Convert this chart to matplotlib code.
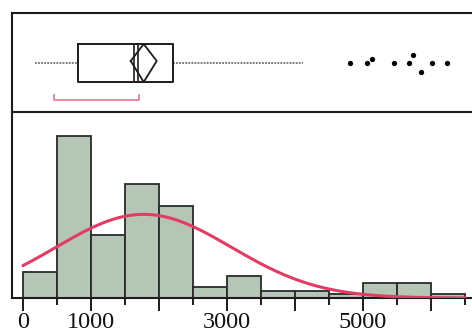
import numpy as np
import matplotlib
matplotlib.use("Agg")
from matplotlib import pyplot as plt

# histogram, 500 wide bins
bin_edges = [0, 500, 1000, 1500, 2000, 2500, 3000, 3500, 4000, 4500, 5000, 5500, 6000, 6500]
counts = [7, 44, 17, 31, 25, 3, 6, 2, 2, 1, 4, 4, 1]

# outlier box plot summary
whisker_lo = 176
q1 = 804
median_lines = [1632, 1695]
q3 = 2210
whisker_hi = 4122
mean = 1775
mean_ci = (1584, 1966)
shortest_half = (460, 1710)
outliers = [4809, 5054, 5128, 5456, 5681, 5731, 5849, 6010, 6240]
outlier_jitter = [0, 0, -4.3, 0, 0, -8.3, 9.4, 0, 0]

# fitted normal
fit_sd = 1290

tick_major = [0, 1000, 2000, 3000, 4000, 5000, 6000]
tick_labels = ["0", "1000", "", "3000", "", "5000", ""]
tick_minor = [500, 1500, 2500, 3500, 4500, 5500, 6500]

W, H = 472, 332
fig = plt.figure(figsize=(W / 100, H / 100), dpi=100)
fig.patch.set_facecolor("white")

x0 = 12 / W
aw = 469 / W
xlim = (-162, 6735)
frame = "#1c1c1c"

# top: box plot
ax1 = fig.add_axes([x0, (H - 112) / H, aw, 99 / H])
ax1.set_xlim(xlim)
ax1.set_ylim(112, 13)
ax1.set_xticks([])
ax1.set_yticks([])
for s in ["left", "top", "bottom"]:
    ax1.spines[s].set_linewidth(1.5)
    ax1.spines[s].set_color(frame)
ax1.spines["right"].set_visible(False)

yc, ytop, ybot = 63, 44, 82
ax1.plot([whisker_lo, q1], [yc, yc], color="#6e6e6e", lw=1.3, ls=(0, (1, 0.7)))
ax1.plot([q3, whisker_hi], [yc, yc], color="#6e6e6e", lw=1.3, ls=(0, (1, 0.7)))
ax1.plot([q1, q3, q3, q1, q1], [ytop, ytop, ybot, ybot, ytop], color=frame, lw=1.4)
for m in median_lines:
    ax1.plot([m, m], [ytop, ybot], color=frame, lw=1.2)
ax1.plot([mean_ci[0], mean, mean_ci[1], mean, mean_ci[0]],
         [yc - 2, ytop, yc - 2, ybot, yc - 2], color=frame, lw=1.3)
ax1.plot(outliers, [yc + j for j in outlier_jitter], "o", color="black", ms=3.8, mec="none")
ax1.plot([shortest_half[0], shortest_half[0], shortest_half[1], shortest_half[1]],
         [95, 100, 100, 95], color="#e8809a", lw=1.3)

# bottom: histogram
ax2 = fig.add_axes([x0, 34 / H, aw, 186 / H])
ax2.patch.set_alpha(0)
ax2.set_xlim(xlim)
ax2.set_ylim(0, 186 / 3.68)
widths = np.diff(bin_edges)
ax2.bar(bin_edges[:-1], counts, width=widths, align="edge",
        color="#b6c6b6", edgecolor="#2a2a2a", linewidth=1.3, zorder=2)

xs = np.linspace(0, 6500, 400)
n = sum(counts)
curve = n * 500 / (fit_sd * np.sqrt(2 * np.pi)) * np.exp(-0.5 * ((xs - mean) / fit_sd) ** 2)
ax2.plot(xs, curve, color="#e23c64", lw=2.2, zorder=3, solid_capstyle="round")

ax2.spines["top"].set_visible(False)
ax2.spines["right"].set_visible(False)
for s in ["left", "bottom"]:
    ax2.spines[s].set_linewidth(1.5)
    ax2.spines[s].set_color(frame)
ax2.set_yticks([])
ax2.set_xticks(tick_major)
ax2.set_xticklabels(tick_labels, fontfamily="Liberation Serif", fontsize=17.5, color="#111111")
ax2.set_xticks(tick_minor, minor=True)
ax2.tick_params(axis="x", which="major", length=9.5, width=1.4, color=frame, pad=0.5)
ax2.tick_params(axis="x", which="minor", length=5, width=1.4, color=frame)

fig.savefig("out.png", dpi=100)
